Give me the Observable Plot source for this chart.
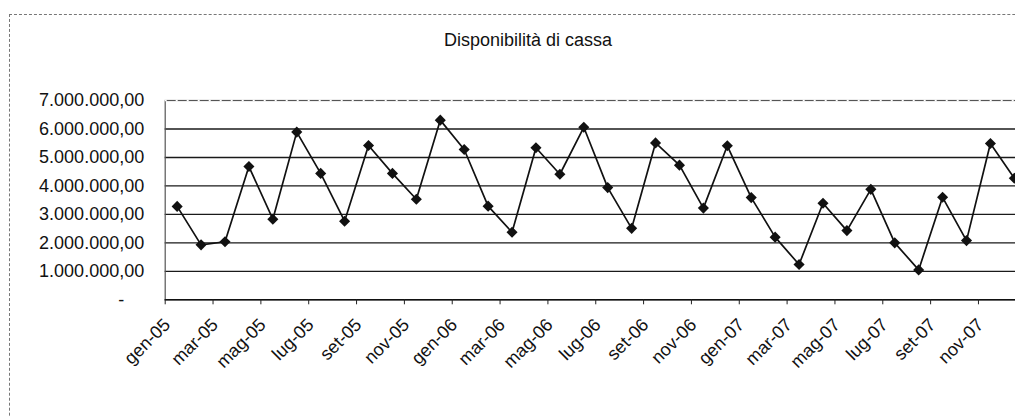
<!DOCTYPE html>
<html>
<head>
<meta charset="utf-8">
<script src="https://cdn.jsdelivr.net/npm/d3@7"></script>
<script src="https://cdn.jsdelivr.net/npm/@observablehq/plot@0.6"></script>
<style>
  html, body { margin: 0; padding: 0; background: #fff; overflow: hidden; width: 1015px; height: 416px; }
  #wrap { position: relative; width: 1015px; height: 416px; overflow: hidden; }
  #border { position: absolute; left: 9px; top: 14px; width: 1200px; height: 600px; border-top: 1px dashed #777; border-left: 1px dashed #777; }
  #title { position: absolute; left: 378px; width: 300px; top: 31px; text-align: center; font: 18px "Liberation Sans", Arial, sans-serif; line-height: 18px; color: #111; }
  #chart { position: absolute; left: 0; top: 0; width: 1045px; height: 416px; }
  #chart svg { max-width: none !important; }
</style>
</head>
<body>
<div id="wrap">
  <div id="border"></div>
  <div id="title">Disponibilità di cassa</div>
  <div id="chart"></div>
</div>
<script>
const categories = [
  "gen-05","feb-05","mar-05","apr-05","mag-05","giu-05","lug-05","ago-05","set-05","ott-05","nov-05","dic-05",
  "gen-06","feb-06","mar-06","apr-06","mag-06","giu-06","lug-06","ago-06","set-06","ott-06","nov-06","dic-06",
  "gen-07","feb-07","mar-07","apr-07","mag-07","giu-07","lug-07","ago-07","set-07","ott-07","nov-07","dic-07"
];
const values = [
  3280000, 1930000, 2040000, 4680000, 2830000, 5890000, 4440000, 2760000, 5420000, 4440000, 3530000, 6310000,
  5280000, 3290000, 2370000, 5340000, 4410000, 6060000, 3940000, 2510000, 5510000, 4730000, 3220000, 5410000,
  3590000, 2200000, 1240000, 3390000, 2430000, 3880000, 2000000, 1050000, 3600000, 2080000, 5490000, 4270000
];
const yTicks = [0, 1000000, 2000000, 3000000, 4000000, 5000000, 6000000, 7000000];
const xTickLabels = categories.filter((d, i) => i % 2 === 0);

const data = categories.map((c, i) => ({month: c, value: values[i]}));

const width = 1045, height = 416;
const marginLeft = 164.7, marginRight = 19.2, marginTop = 100, marginBottom = 116.7;
const step = (width - marginLeft - marginRight) / categories.length;

const base = d3.format(",.2f");
const fmt = v => v === 0 ? "-\u2007\u2007" : base(v).replace(/,/g, "#").replace(/\./g, ",").replace(/#/g, ".");

const chart = Plot.plot({
  width, height, marginLeft, marginRight, marginTop, marginBottom,
  style: {fontFamily: "'Liberation Sans', Arial, sans-serif", fontSize: "18px", color: "#111", background: "transparent", overflow: "visible", maxWidth: "none"},
  x: {type: "point", domain: categories, padding: 0.5, label: null},
  y: {domain: [0, 7000000], label: null},
  marks: [
    Plot.ruleY(yTicks.filter(v => v > 0 && v < 7000000), {stroke: "#1a1a1a", strokeWidth: 1.4}),
    Plot.frame({stroke: "#555", strokeWidth: 1.2}),
    Plot.ruleY([7000000], {stroke: "#fff", strokeWidth: 1.4, strokeDasharray: "2,9"}),
    Plot.ruleY([0], {stroke: "#111", strokeWidth: 1.6}),
    Plot.axisY({ticks: yTicks, tickSize: 0, tickPadding: 21, tickFormat: fmt, fontSize: 18, label: null}),
    Plot.axisX({ticks: xTickLabels, tickSize: 5, tickFormat: () => "", dx: -step / 2, label: null, stroke: "#222"}),
    Plot.axisX({ticks: xTickLabels, tickSize: 0, tickRotate: -45, tickPadding: 22, dx: -10, fontSize: 18, label: null}),
    Plot.line(data, {x: "month", y: "value", stroke: "#111", strokeWidth: 1.7}),
    Plot.dot(data, {x: "month", y: "value", symbol: "diamond2", r: 5, fill: "#111", stroke: "none"})
  ]
});
document.getElementById("chart").appendChild(chart);
</script>
</body>
</html>
